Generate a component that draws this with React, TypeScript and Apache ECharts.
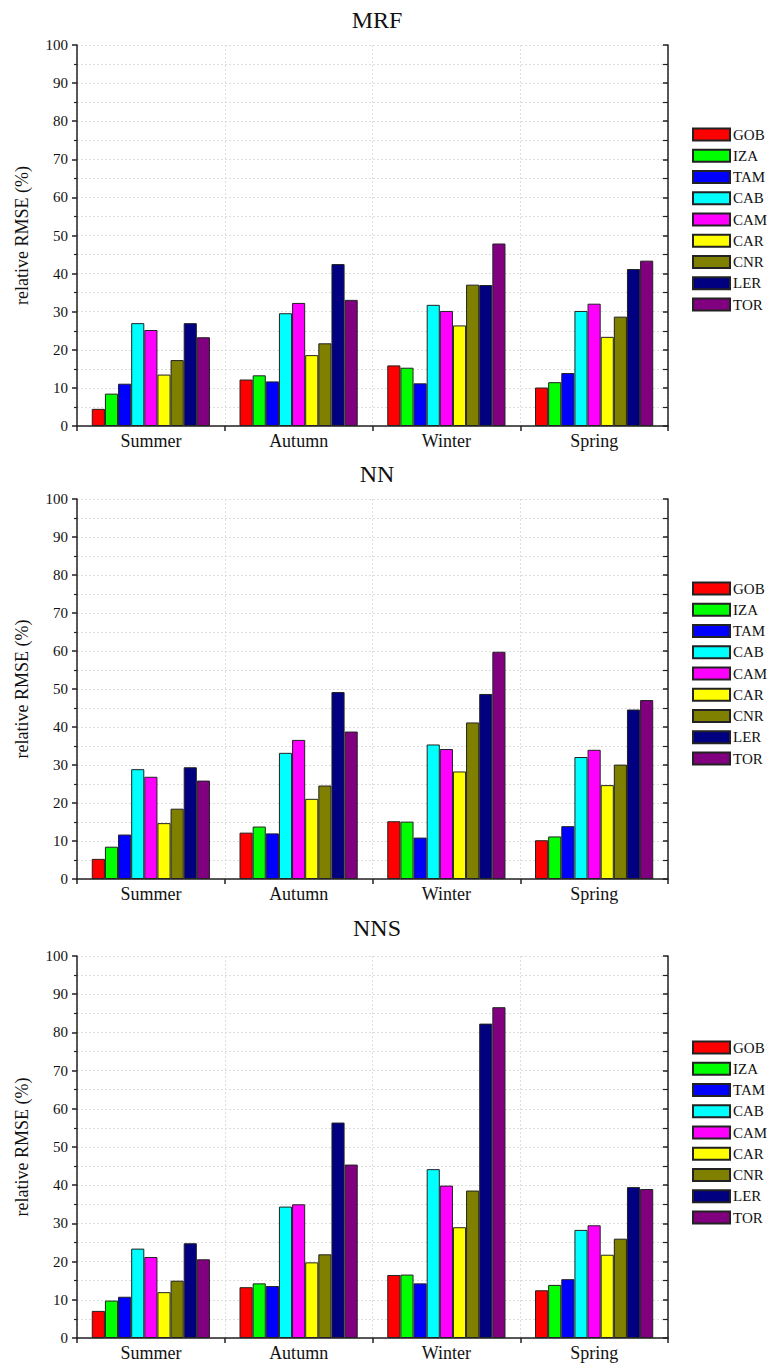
import React, { useEffect, useRef } from "react";
import * as echarts from "echarts";

const seasons = ["Summer", "Autumn", "Winter", "Spring"];
const stations = ["GOB", "IZA", "TAM", "CAB", "CAM", "CAR", "CNR", "LER", "TOR"];
const stationColors = ["#ff0000", "#00ff00", "#0000ff", "#00ffff", "#ff00ff", "#ffff00", "#808000", "#000080", "#800080"];
const panelTitles = ["MRF", "NN", "NNS"];
const yTicks = [0, 10, 20, 30, 40, 50, 60, 70, 80, 90, 100];

// rows: stations (GOB..TOR), columns: seasons (Summer, Autumn, Winter, Spring)
const mrfValues: number[][] = [
  [4.5, 12.2, 15.9, 10.1],
  [8.5, 13.3, 15.3, 11.5],
  [11.1, 11.7, 11.2, 13.9],
  [27.0, 29.6, 31.8, 30.2],
  [25.2, 32.3, 30.2, 32.1],
  [13.5, 18.6, 26.4, 23.4],
  [17.3, 21.7, 37.1, 28.7],
  [27.0, 42.5, 37.0, 41.2],
  [23.3, 33.1, 47.9, 43.4],
];
const nnValues: number[][] = [
  [5.3, 12.2, 15.2, 10.2],
  [8.5, 13.8, 15.1, 11.2],
  [11.7, 12.0, 10.9, 13.9],
  [28.9, 33.2, 35.4, 32.1],
  [26.9, 36.6, 34.2, 34.0],
  [14.7, 21.1, 28.3, 24.7],
  [18.5, 24.6, 41.2, 30.1],
  [29.4, 49.2, 48.7, 44.6],
  [25.9, 38.8, 59.8, 47.1],
];
const nnsValues: number[][] = [
  [7.1, 13.3, 16.5, 12.5],
  [9.8, 14.3, 16.6, 13.9],
  [10.8, 13.6, 14.3, 15.4],
  [23.4, 34.4, 44.2, 28.3],
  [21.2, 35.0, 39.9, 29.5],
  [12.0, 19.8, 29.0, 21.8],
  [15.0, 21.9, 38.6, 26.0],
  [24.8, 56.4, 82.3, 39.5],
  [20.6, 45.4, 86.6, 39.0],
];
const panelValues = [mrfValues, nnValues, nnsValues];

const FONT = "Liberation Serif";

export default function App() {
  const ref = useRef<HTMLDivElement>(null);
  useEffect(() => {
    if (!ref.current) return;
    const chart = echarts.init(ref.current, undefined, { renderer: "svg" });
    const gridTops = [45, 499, 956];
    const gridHeights = [381, 380, 382];
    const titleTops = [3, 457, 911];
    const legendTops = [127, 581, 1040];

    const grids = gridTops.map((t, i) => ({
      left: 77,
      right: 108,
      top: t,
      height: gridHeights[i],
      containLabel: false,
    }));

    const dotted = { show: true, lineStyle: { color: "#dedede", type: [2, 2] as any, width: 1 } };

    const xAxes = panelTitles.map((_, i) => ({
      type: "category",
      gridIndex: i,
      data: seasons,
      axisLine: { show: true, lineStyle: { color: "#222", width: 1.5 } },
      axisTick: { show: true, length: 5, lineStyle: { color: "#222", width: 1.5 } },
      axisLabel: { fontFamily: FONT, fontSize: 18, color: "#111", margin: 6 },
      splitLine: dotted,
    }));

    const yAxes: any[] = [];
    panelTitles.forEach((_, i) => {
      yAxes.push({
        type: "value",
        gridIndex: i,
        position: "left",
        min: yTicks[0],
        max: yTicks[yTicks.length - 1],
        interval: 10,
        name: "relative RMSE (%)",
        nameLocation: "middle",
        nameGap: 46,
        nameTextStyle: { fontFamily: FONT, fontSize: 18, color: "#111" },
        axisLine: { show: true, lineStyle: { color: "#222", width: 1.5 } },
        axisTick: { show: true, length: 5, lineStyle: { color: "#222", width: 1.5 } },
        minorTick: { show: true, splitNumber: 2, length: 3, lineStyle: { color: "#222", width: 1.2 } },
        axisLabel: { fontFamily: FONT, fontSize: 15, color: "#111", margin: 9 },
        splitLine: dotted,
        minorSplitLine: dotted,
      });
      yAxes.push({
        type: "value",
        gridIndex: i,
        position: "right",
        min: yTicks[0],
        max: yTicks[yTicks.length - 1],
        interval: 10,
        axisLine: { show: true, lineStyle: { color: "#222", width: 1.5 } },
        axisTick: { show: true, inside: true, length: 5, lineStyle: { color: "#222", width: 1.5 } },
        minorTick: { show: true, splitNumber: 2, length: 5, lineStyle: { color: "#222", width: 1.2 } },
        axisLabel: { show: false },
        splitLine: { show: false },
      });
    });

    const series: any[] = [];
    panelValues.forEach((vals, p) => {
      stations.forEach((s, k) => {
        series.push({
          type: "bar",
          name: s,
          xAxisIndex: p,
          yAxisIndex: p * 2,
          data: vals[k],
          barGap: "0%",
          barCategoryGap: "20%",
          itemStyle: { color: stationColors[k], borderColor: "#222", borderWidth: 1 },
        });
      });
    });

    const titles = panelTitles.map((t, i) => ({
      text: t,
      left: 372,
      top: titleTops[i],
      textAlign: "center",
      textStyle: { fontFamily: FONT, fontSize: 24, fontWeight: "normal", color: "#111" },
    }));

    const legends = legendTops.map((t) => ({
      data: stations,
      orient: "vertical",
      left: 692,
      top: t,
      padding: 0,
      itemWidth: 37,
      itemHeight: 12,
      itemGap: 6.25,
      icon: "rect",
      textStyle: { fontFamily: FONT, fontSize: 15, color: "#111", padding: [0, 0, 0, -2] },
    }));

    chart.setOption({
      animation: false,
      backgroundColor: "#ffffff",
      title: titles,
      legend: legends,
      grid: grids,
      xAxis: xAxes,
      yAxis: yAxes,
      series,
    } as any);
    return () => chart.dispose();
  }, []);
  return (
    <div
      ref={ref}
      style={{ position: "absolute", left: 0, top: 0, width: 776, height: 1363 }}
    />
  );
}
